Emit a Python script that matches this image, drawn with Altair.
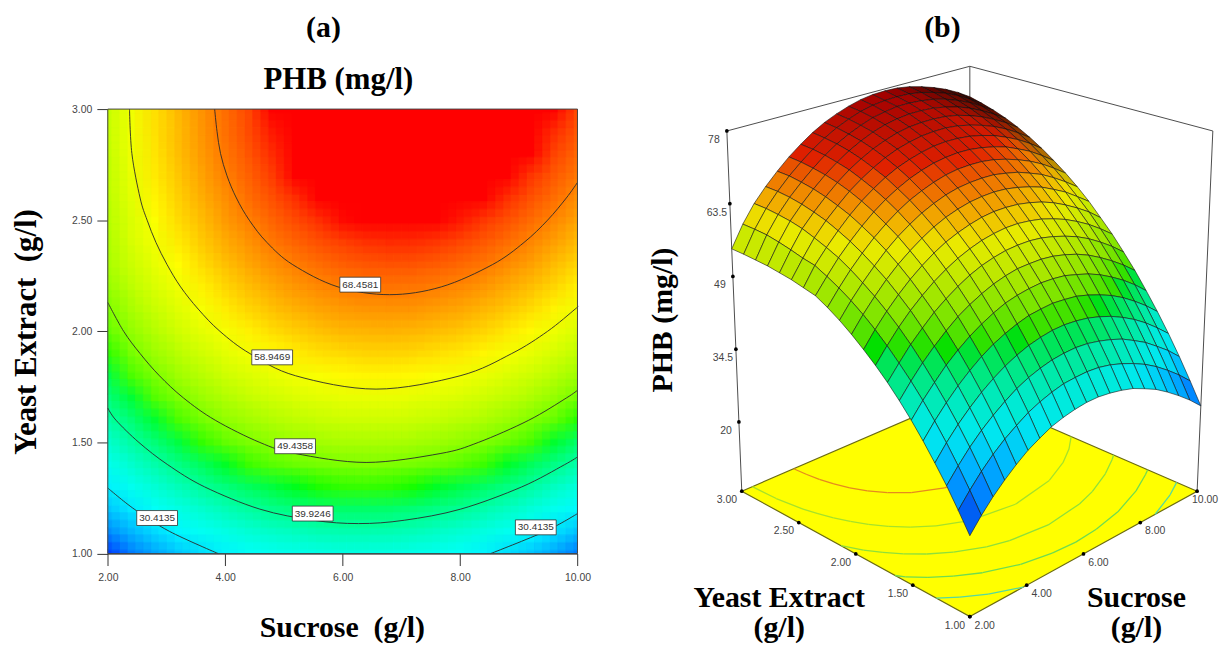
import altair as alt
import pandas as pd
import numpy as np

sucrose = [2.0 + 0.4 * i for i in range(21)]
yeast = [1.0 + 0.1 * i for i in range(21)]
# PHB read from the response surface, one row per yeast extract level (1.0 .. 3.0)
phb = [
[20.6,23.2,25.5,27.5,29.3,30.9,32.1,33.2,33.9,34.4,34.7,34.7,34.4,33.9,33.2,32.1,30.9,29.3,27.5,25.5,23.2],
[24.1,26.7,29.1,31.2,33.0,34.5,35.9,36.9,37.7,38.3,38.5,38.6,38.4,37.9,37.1,36.1,34.9,33.4,31.6,29.6,27.3],
[27.5,30.1,32.5,34.6,36.4,38.0,39.4,40.5,41.3,41.9,42.2,42.3,42.1,41.6,40.9,40.0,38.7,37.3,35.5,33.6,31.3],
[30.6,33.3,35.7,37.8,39.7,41.3,42.7,43.8,44.7,45.3,45.7,45.8,45.6,45.2,44.5,43.6,42.4,41.0,39.3,37.3,35.1],
[33.6,36.3,38.7,40.9,42.8,44.5,45.9,47.0,47.9,48.6,48.9,49.1,48.9,48.6,47.9,47.0,45.9,44.5,42.8,40.9,38.7],
[36.4,39.1,41.5,43.8,45.7,47.4,48.8,50.0,51.0,51.6,52.0,52.2,52.1,51.8,51.1,50.3,49.2,47.8,46.2,44.3,42.1],
[39.0,41.7,44.2,46.4,48.4,50.2,51.6,52.8,53.8,54.5,55.0,55.1,55.1,54.8,54.2,53.4,52.3,50.9,49.3,47.5,45.4],
[41.4,44.1,46.7,48.9,51.0,52.7,54.2,55.5,56.5,57.2,57.7,57.9,57.9,57.6,57.0,56.2,55.2,53.9,52.3,50.5,48.4],
[43.6,46.4,49.0,51.3,53.3,55.1,56.6,57.9,58.9,59.7,60.2,60.5,60.5,60.2,59.7,58.9,57.9,56.6,55.1,53.3,51.3],
[45.6,48.5,51.1,53.4,55.5,57.3,58.9,60.2,61.2,62.0,62.6,62.9,62.9,62.7,62.2,61.5,60.5,59.2,57.7,56.0,53.9],
[47.5,50.4,53.0,55.4,57.5,59.3,60.9,62.3,63.4,64.2,64.8,65.1,65.2,65.0,64.5,63.8,62.9,61.6,60.2,58.4,56.5],
[49.2,52.1,54.7,57.1,59.3,61.2,62.8,64.2,65.3,66.2,66.8,67.1,67.2,67.1,66.6,66.0,65.0,63.9,62.4,60.7,58.8],
[50.7,53.6,56.3,58.7,60.9,62.8,64.5,65.9,67.0,67.9,68.6,69.0,69.1,69.0,68.6,67.9,67.0,65.9,64.5,62.8,60.9],
[52.0,54.9,57.7,60.1,62.3,64.3,66.0,67.4,68.6,69.5,70.2,70.6,70.8,70.7,70.3,69.7,68.9,67.7,66.4,64.7,62.8],
[52.6,56.1,58.8,61.3,63.6,65.6,67.3,68.8,70.0,70.9,71.6,72.1,72.3,72.2,71.9,71.3,70.5,69.4,68.1,66.5,64.6],
[53.2,56.6,59.8,62.4,64.6,66.7,68.4,69.9,71.2,72.2,72.9,73.4,73.6,73.6,73.3,72.7,71.9,70.9,69.6,68.0,66.2],
[53.6,57.3,60.7,63.2,65.5,67.6,69.4,70.9,72.2,73.2,74.0,74.5,74.7,74.7,74.5,74.0,73.2,72.2,70.9,69.4,67.6],
[54.0,57.9,61.3,63.9,66.2,68.3,70.1,71.7,73.0,74.1,74.9,75.4,75.7,75.7,75.5,75.0,74.3,73.3,72.0,70.5,68.8],
[54.2,58.4,61.7,64.4,66.7,68.8,70.7,72.3,73.6,74.7,75.6,76.1,76.5,76.5,76.3,75.9,75.2,74.2,73.0,71.5,69.8],
[54.4,58.6,62.0,64.7,67.1,69.2,71.1,72.7,74.1,75.2,76.1,76.7,77.0,77.1,77.0,76.6,75.9,75.0,73.8,72.3,70.6],
[54.5,58.7,62.1,64.8,67.2,69.4,71.3,73.0,74.4,75.5,76.4,77.1,77.5,77.6,77.5,77.1,76.4,75.5,74.4,73.0,71.3],
]

contour_68 = [(3.82,3),(3.86,2.9),(3.92,2.8),(4.03,2.7),(4.19,2.6),(4.41,2.5),(4.71,2.4),(5.15,2.3),(5.92,2.2),(6.8,2.165),(7.68,2.2),(8.55,2.3),(9.09,2.4),(9.49,2.5),(9.81,2.6),(10,2.67)]
contour_59 = [(2.37,3),(2.41,2.8),(2.55,2.6),(2.67,2.5),(2.82,2.4),(3.01,2.3),(3.24,2.2),(3.54,2.1),(3.91,2),(4.42,1.9),(5.2,1.8),(6.57,1.74),(8.0,1.8),(8.88,1.9),(9.49,2),(9.96,2.1),(10,2.11)]
contour_49 = [(2,2.13),(2.27,2),(2.55,1.9),(2.88,1.8),(3.29,1.7),(3.83,1.6),(4.59,1.5),(5.2,1.45),(6.4,1.41),(7.66,1.45),(8.31,1.5),(9.17,1.6),(9.81,1.7),(10,1.735)]
contour_40 = [(2,1.655),(2.14,1.6),(2.53,1.5),(3.02,1.4),(3.65,1.3),(4.59,1.2),(5.5,1.15),(6.27,1.135),(7.05,1.15),(8.01,1.2),(9.05,1.3),(9.78,1.4),(10,1.435)]
contour_30a = [(2,1.295),(2.45,1.2),(3.05,1.1),(3.88,1)]
contour_30b = [(8.52,1),(9.45,1.1),(10,1.18)]
contours = [("68", contour_68, "#e58a1f"), ("59", contour_59, "#a6e22a"), ("49", contour_49, "#8fe03a"),
            ("40", contour_40, "#6fdc50"), ("30a", contour_30a, "#55d8a0"), ("30b", contour_30b, "#55d8a0")]

label_text = ["68.4581", "58.9469", "49.4358", "39.9246", "30.4135", "30.4135"]
label_x = [6.30, 4.80, 5.19, 5.49, 2.84, 9.29]
label_y = [2.21, 1.883, 1.483, 1.18, 1.16, 1.118]

sucrose_ticks = [2, 4, 6, 8, 10]
yeast_ticks = [1, 1.5, 2, 2.5, 3]
phb_ticks = [20, 34.5, 49, 63.5, 78]
phb_tick_labels = ["20", "34.5", "49", "63.5", "78"]

SERIF = "Liberation Serif"
SANS = "Liberation Sans"
color_scale = alt.Scale(domain=[20.6, 31.5, 45, 60, 73], range=["#0040ff", "#00ffff", "#00ff00", "#ffff00", "#ff0000"], clamp=True)
surface_scale = alt.Scale(domain=[22, 34, 46, 59.5, 70, 78],
                          range=["#0040e0", "#00e8f0", "#00e000", "#eaea00", "#e02000", "#a00000"], clamp=True)

# ---------- panel (a)
LW, LH = 585, 636
ORX, ORY = 8, 8
PL, PR, PT, PB = 108.3 - ORX, 580.3 - ORX, 106 - ORY, 552.7 - ORY
x_scale = alt.Scale(domain=[2, 10], range=[PL, PR], nice=False, zero=False)
y_scale = alt.Scale(domain=[1, 3], range=[PB, PT], nice=False, zero=False)
x_axis = alt.Axis(values=sucrose_ticks, format=".2f", title=None, grid=False, tickSize=12, labelPadding=7, offset=PB - LH,
                  labelFlush=False, labelFont=SANS, labelFontSize=10.5, labelColor="#444", tickColor="#333", domainColor="#333")
y_axis = alt.Axis(values=yeast_ticks, format=".2f", title=None, grid=False, tickSize=11, labelPadding=5, offset=-PL,
                  labelFlush=False, labelFont=SANS, labelFontSize=10.5, labelColor="#444", tickColor="#333", domainColor="#333")
enc_x = lambda f: alt.X(f, scale=x_scale, axis=x_axis)
enc_y = lambda f: alt.Y(f, scale=y_scale, axis=y_axis)

DX, DY = 0.2, 0.05
rows = []
for j, yv in enumerate(yeast):
    for i, xv in enumerate(sucrose):
        rows.append((xv, yv, phb[j][i]))
cells = pd.DataFrame(rows, columns=["xv", "yv", "z"])
EPS_X, EPS_Y = 0.006, 0.003


def cell_layer(sx, sy, op):
    d = cells.copy()
    d["x1"] = np.clip(d.xv - DX + sx * DX - EPS_X, 2, 10)
    d["x2"] = np.clip(d.xv + DX + sx * DX + EPS_X, 2, 10)
    d["y1"] = np.clip(d.yv - DY + sy * DY - EPS_Y, 1, 3)
    d["y2"] = np.clip(d.yv + DY + sy * DY + EPS_Y, 1, 3)
    return alt.Chart(d).mark_rect(opacity=op).encode(
        x=enc_x("x1:Q"), x2="x2:Q", y=enc_y("y1:Q"), y2="y2:Q",
        color=alt.Color("z:Q", scale=color_scale, legend=None),
    )


shifts = [-2 / 3, 0, 2 / 3]
heat = []
n = 0
for sy in shifts:
    for sx in shifts:
        n += 1
        heat.append(cell_layer(sx, sy, 1 / n))

lines = []
for name, pts, col in contours:
    for k, (a, b) in enumerate(pts):
        lines.append({"level": name, "idx": k, "a": a, "b": b})
line_df = pd.DataFrame(lines)
contour_layer = alt.Chart(line_df).mark_line(color="#2a2a2a", strokeWidth=0.9, interpolate="cardinal").encode(
    x=enc_x("a:Q"), y=enc_y("b:Q"), detail="level:N", order="idx:Q")

border = alt.Chart(pd.DataFrame({"a": [2.0], "a2": [10.0], "b": [1.0], "b2": [3.0]})).mark_rect(
    fillOpacity=0, stroke="#444", strokeWidth=1).encode(x=enc_x("a:Q"), x2="a2:Q", y=enc_y("b:Q"), y2="b2:Q")

lab_df = pd.DataFrame({"t": label_text, "a": label_x, "b": label_y})
lab_box = alt.Chart(lab_df).mark_rect(width=41, height=15, fill="white", stroke="#333", strokeWidth=0.8).encode(
    x=enc_x("a:Q"), y=enc_y("b:Q"))
lab_txt = alt.Chart(lab_df).mark_text(font=SANS, fontSize=10, color="#333").encode(
    x=enc_x("a:Q"), y=enc_y("b:Q"), text="t:N")


def title_text(txt, px, py, angle=0, size=30):
    kw = {"angle": angle} if angle else {}
    return alt.Chart(pd.DataFrame({"t": [txt]})).mark_text(font=SERIF, fontWeight="bold", fontSize=size, color="#000", **kw).encode(
        x=alt.value(px), y=alt.value(py), text="t:N")


left = alt.layer(
    *heat, contour_layer, border, lab_box, lab_txt,
    title_text("(a)", 325 - ORX, 25 - ORY),
    title_text("PHB (mg/l)", 340 - ORX, 77 - ORY, size=31),
    title_text("Sucrose\u00a0\u00a0(g/l)", 344 - ORX, 628 - ORY),
    title_text("Yeast Extract\u00a0\u00a0(g/l)", 27 - ORX, 330 - ORY, 270, size=31),
).properties(width=LW, height=LH, view=alt.ViewConfig(stroke=None))

# ---------- panel (b)
PX0, PY0, PW, PH = 610, 8, 611, 636
F, R, L, B = (970.6, 616), (1199, 490), (741.4, 490), (970.6, 391)
TF, TR, TL, TB = (970.6, 211), (1214.8, 128), (726.4, 128), (970.6, 63)
Z0, Z1 = 6.2, 78.0


def bil(u, v, a, b, c, d):
    return tuple((1 - u) * (1 - v) * a[k] + u * (1 - v) * b[k] + (1 - u) * v * c[k] + u * v * d[k] for k in (0, 1))


def proj(xv, yv, z=Z0):
    u, v = (xv - 2) / 8, (yv - 1) / 2
    w = (z - Z0) / (Z1 - Z0)
    p, t = bil(u, v, F, R, L, B), bil(u, v, TF, TR, TL, TB)
    return [p[0] + (t[0] - p[0]) * w, p[1] + (t[1] - p[1]) * w]


def poly(pts, **props):
    return {"type": "Feature", "properties": props, "geometry": {"type": "Polygon", "coordinates": [pts + [pts[0]]]}}


def linestr(pts, **props):
    return {"type": "Feature", "properties": props, "geometry": {"type": "LineString", "coordinates": pts}}


def geo(features):
    return alt.Chart(alt.Data(values=features))


frame_box = [[PX0, PY0], [PX0 + PW, PY0], [PX0 + PW, PY0 + PH], [PX0, PY0 + PH]]
anchor = geo([poly(frame_box)]).mark_geoshape(fill="transparent", stroke="transparent").project(type="identity")

frame_lines = [linestr([list(L), list(TL)]), linestr([list(R), list(TR)]), linestr([list(B), list(TB)]),
               linestr([list(TL), list(TB)]), linestr([list(TB), list(TR)])]
frame = geo(frame_lines).mark_geoshape(filled=False, stroke="#4d4d4d", strokeWidth=1).project(type="identity")

floor = geo([poly([list(F), list(R), list(B), list(L)])]).mark_geoshape(
    fill="#ffff00", stroke="#6b6b10", strokeWidth=1.2).project(type="identity")

floor_lines = []
for name, pts, col in contours:
    k = 0
    while k < len(pts) - 1:
        floor_lines.append(linestr([proj(*pts[k]), proj(*pts[k + 1])], c=col))
        k += 1
floor_layer = geo(floor_lines).mark_geoshape(filled=False, strokeWidth=1.3).encode(
    stroke=alt.Stroke("properties.c:N", scale=None)).project(type="identity")


def quad_area(p):
    s = 0.0
    for a in range(4):
        b = (a + 1) % 4
        s += p[a][0] * p[b][1] - p[b][0] * p[a][1]
    return abs(s) / 2


quads = []
for j in range(19, -1, -1):
    for i in range(19, -1, -1):
        corners = [(i, j), (i + 1, j), (i + 1, j + 1), (i, j + 1)]
        pts = [proj(sucrose[a], yeast[b], phb[b][a]) for a, b in corners]
        zm = (phb[j][i] + phb[j][i + 1] + phb[j + 1][i] + phb[j + 1][i + 1]) / 4
        shade = max(0.0, min(0.85, 0.9 * (1 - quad_area(pts) / 120)))
        quads.append(poly(pts, z=zm, s=round(shade, 3)))
surface = geo(quads).mark_geoshape(stroke="#151515", strokeWidth=0.6).encode(
    fill=alt.Fill("properties.z:Q", scale=surface_scale, legend=None)).project(type="identity")
surface_shade = geo(quads).mark_geoshape(fill="#000000", strokeWidth=0).encode(
    fillOpacity=alt.FillOpacity("properties.s:Q", scale=None)).project(type="identity")

RIGHT_LABEL_LIMIT = PX0 + PW - 14
tick_pts, tick_txt = [], []
for v, s in zip(phb_ticks, phb_tick_labels):
    p = proj(2, 3, v)
    tick_pts.append({"lon": p[0], "lat": p[1]})
    tick_txt.append({"lon": p[0] - 13, "lat": p[1] + 9, "t": s})
for v in yeast_ticks:
    p = proj(2, v)
    tick_pts.append({"lon": p[0], "lat": p[1]})
    tick_txt.append({"lon": p[0] - 15, "lat": p[1] + 9, "t": f"{v:.2f}"})
for v in sucrose_ticks:
    p = proj(v, 1)
    tick_pts.append({"lon": p[0], "lat": p[1]})
    tick_txt.append({"lon": min(p[0] + 15, RIGHT_LABEL_LIMIT), "lat": p[1] + 9, "t": f"{v:.2f}"})
dots = alt.Chart(pd.DataFrame(tick_pts)).mark_circle(size=14, color="#000", opacity=1).encode(
    longitude="lon:Q", latitude="lat:Q")
dot_labels = alt.Chart(pd.DataFrame(tick_txt)).mark_text(font=SANS, fontSize=10.5, color="#444").encode(
    longitude="lon:Q", latitude="lat:Q", text="t:N")

right = alt.layer(
    anchor, frame, floor, floor_layer, surface, surface_shade, dots, dot_labels,
    title_text("(b)", 943 - PX0, 25 - PY0),
    title_text("PHB (mg/l)", 662 - PX0, 318 - PY0, 270),
    title_text("Yeast Extract", 779 - PX0, 597 - PY0),
    title_text("(g/l)", 779 - PX0, 628 - PY0),
    title_text("Sucrose", 1138 - PX0, 597 - PY0),
    title_text("(g/l)", 1138 - PX0, 628 - PY0),
).properties(width=PW, height=PH, view=alt.ViewConfig(stroke=None))

chart = alt.hconcat(left, right, spacing=17).resolve_scale(color="independent").properties(padding=0, background="white")
chart.save("out.html", embed_options={"renderer": "svg", "actions": False})
